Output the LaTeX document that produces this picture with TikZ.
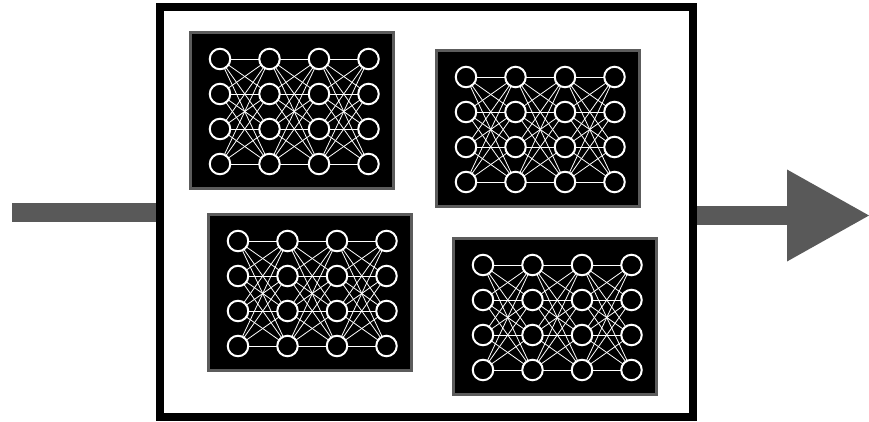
\documentclass[tikz,border=0pt]{standalone}
\usepackage{tikz}
\usetikzlibrary{arrows.meta}
\definecolor{arrowgray}{RGB}{89,89,89}
\definecolor{panelgray}{RGB}{92,92,92}

\begin{document}
\begin{tikzpicture}[
  x=1pt, y=-1pt,
  frame/.style={rectangle, draw=black, line width=8pt, inner sep=0pt,
                minimum width=533pt, minimum height=409.5pt},
  panel/.style={rectangle, draw=panelgray, fill=black, line width=3pt, inner sep=0pt,
                minimum width=203pt, minimum height=156pt, anchor=north west},
  unit/.style={circle, draw=white, fill=black, line width=2pt, inner sep=0pt,
               minimum size=20.5pt},
  link/.style={draw=white, line width=0.8pt},
  shaft/.style={draw=arrowgray, line width=19pt}
]
  \useasboundingbox (0,0) rectangle (869,422);

  % Outer box
  \node[frame] (box) at (426.5,212.25) {};

  % Input and output
  \coordinate (in)  at (12,212.5);
  \coordinate (out) at (869,215.5);
  \draw[shaft] (in) -- (in -| box.west);
  \draw[shaft, -{Triangle[length=82pt, width=92pt, line width=0pt]}] (box.east |- out) -- (out);

  % Four networks
  \foreach \k/\px/\py in {1/189/31, 2/435/49, 3/207/213, 4/452/237} {
    \node[panel] (p\k) at (\px,\py) {};
    \foreach \i in {0,...,3}
      \foreach \j in {0,...,3}
        \coordinate (c\k-\i-\j) at ({\px+31+49.5*\i},{\py+28+35*\j});
    \foreach \i [evaluate=\i as \n using int(\i+1)] in {0,1,2}
      \foreach \j in {0,...,3}
        \foreach \m in {0,...,3}
          \draw[link] (c\k-\i-\j) -- (c\k-\n-\m);
    \foreach \i in {0,...,3}
      \foreach \j in {0,...,3}
        \node[unit] (u\k-\i-\j) at (c\k-\i-\j) {};
  }
\end{tikzpicture}
\end{document}
